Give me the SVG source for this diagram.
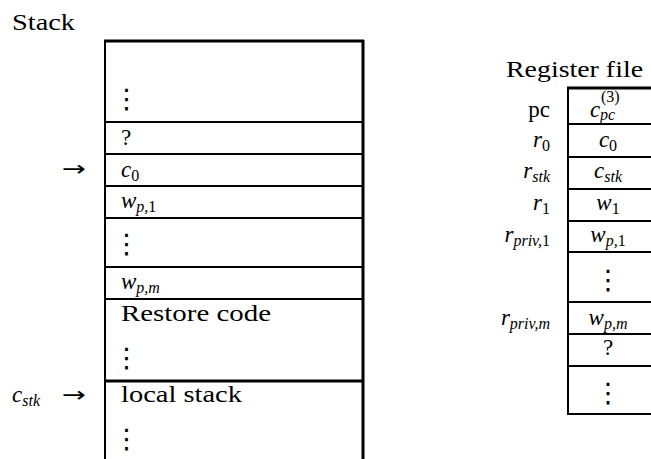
<svg xmlns="http://www.w3.org/2000/svg" width="651" height="459" viewBox="0 0 651 459">
<style>
text{font-family:"Liberation Serif","Times New Roman",serif;font-size:23px;fill:#000}
.i{font-style:italic}
.s{font-size:16px}
.si{font-size:16px;font-style:italic}
.vd{font-family:"DejaVu Sans",sans-serif;font-size:27px}
.ar{font-family:"DejaVu Sans",sans-serif;font-size:21px}
.ln{stroke:#000;stroke-width:2;fill:none}
.th{stroke:#000;stroke-width:3;fill:none}
.r{text-anchor:end}
.m{text-anchor:middle}
</style>
<rect width="651" height="459" fill="#fff"/>
<text x="12" y="30" textLength="63" lengthAdjust="spacingAndGlyphs">Stack</text>
<g id="stack">
<g id="s1"><line class="th" x1="104" y1="41" x2="364" y2="41"/><text x="113" y="108" class="vd">⋮</text></g>
<g id="s2"><line class="ln" x1="105" y1="122" x2="363" y2="122"/><text x="121" y="145">?</text></g>
<g id="s3"><line class="ln" x1="105" y1="154" x2="363" y2="154"/><text x="121" y="177" class="i">c<tspan class="s" font-style="normal" dy="4">0</tspan></text></g>
<g id="s4"><line class="ln" x1="105" y1="186" x2="363" y2="186"/><text x="121" y="208" class="i">w<tspan class="si" dy="4">p,</tspan><tspan class="s" font-style="normal">1</tspan></text></g>
<g id="s5"><line class="ln" x1="105" y1="218" x2="363" y2="218"/><text x="113" y="253" class="vd">⋮</text></g>
<g id="s6"><line class="ln" x1="105" y1="267" x2="363" y2="267"/><text x="121" y="289" class="i">w<tspan class="si" dy="4">p,m</tspan></text></g>
<g id="s7"><line class="ln" x1="105" y1="299" x2="363" y2="299"/><text x="121" y="321" textLength="150" lengthAdjust="spacingAndGlyphs">Restore code</text><text x="113" y="367" class="vd">⋮</text></g>
<g id="s8"><line class="th" x1="105" y1="381" x2="363" y2="381"/><text x="121" y="402" textLength="121" lengthAdjust="spacingAndGlyphs">local stack</text><text x="113" y="448" class="vd">⋮</text></g>
<line class="ln" x1="105" y1="40" x2="105" y2="459" stroke-width="2.5"/>
<line class="th" x1="363" y1="40" x2="363" y2="459"/>
</g>
<g id="stack-labels">
<text x="62" y="176" class="ar" textLength="24" lengthAdjust="spacingAndGlyphs">→</text>
<text x="12" y="402" class="i">c<tspan class="si" dy="4">stk</tspan></text>
<text x="62" y="402" class="ar" textLength="24" lengthAdjust="spacingAndGlyphs">→</text>
</g>
<text x="506" y="77" textLength="137" lengthAdjust="spacingAndGlyphs">Register file</text>
<g id="regs">
<line class="th" x1="567" y1="88" x2="660" y2="88"/>
<g id="r-pc"><text x="550" y="117" class="r">pc</text><text x="590" y="117" class="i">c</text><text x="601" y="102" class="s">(3)</text><text x="600" y="120" class="si">pc</text></g>
<g id="r-0"><line class="ln" x1="568" y1="124" x2="660" y2="124"/><text x="550" y="147" class="r i">r<tspan class="s" font-style="normal" dy="4">0</tspan></text><text x="608" y="147" class="m i">c<tspan class="s" font-style="normal" dy="4">0</tspan></text></g>
<g id="r-stk"><line class="ln" x1="568" y1="157" x2="660" y2="157"/><text x="550" y="178" class="r i">r<tspan class="si" dy="4">stk</tspan></text><text x="608" y="178" class="m i">c<tspan class="si" dy="4">stk</tspan></text></g>
<g id="r-1"><line class="ln" x1="568" y1="189" x2="660" y2="189"/><text x="550" y="210" class="r i">r<tspan class="s" font-style="normal" dy="4">1</tspan></text><text x="608" y="210" class="m i">w<tspan class="s" font-style="normal" dy="4">1</tspan></text></g>
<g id="r-p1"><line class="ln" x1="568" y1="221" x2="660" y2="221"/><text x="550" y="242" class="r i">r<tspan class="si" dy="4">priv,</tspan><tspan class="s" font-style="normal">1</tspan></text><text x="608" y="242" class="m i">w<tspan class="si" dy="4">p,</tspan><tspan class="s" font-style="normal">1</tspan></text></g>
<g id="r-dots"><line class="ln" x1="568" y1="252" x2="660" y2="252"/><text x="608" y="289" class="m vd">⋮</text></g>
<g id="r-pm"><line class="ln" x1="568" y1="302" x2="660" y2="302"/><text x="550" y="325" class="r i">r<tspan class="si" dy="4">priv,m</tspan></text><text x="608" y="325" class="m i">w<tspan class="si" dy="4">p,m</tspan></text></g>
<g id="r-q"><line class="ln" x1="568" y1="334" x2="660" y2="334"/><text x="608" y="355" class="m">?</text></g>
<g id="r-dots2"><line class="ln" x1="568" y1="366" x2="660" y2="366"/><text x="608" y="402" class="m vd">⋮</text></g>
<line class="ln" x1="567" y1="414" x2="660" y2="414"/>
<line class="ln" x1="568" y1="87" x2="568" y2="415" stroke-width="2.5"/>
</g>
</svg>
